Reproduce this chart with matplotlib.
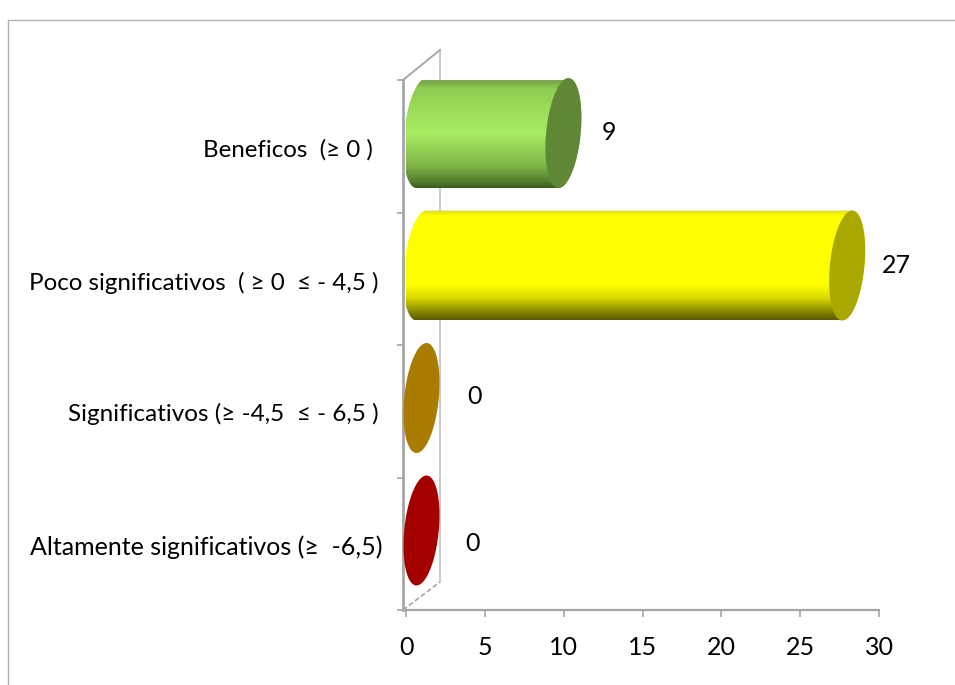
import numpy as np
from matplotlib import pyplot as plt
from matplotlib.colors import LinearSegmentedColormap
from matplotlib.lines import Line2D
from matplotlib.patches import Polygon

categorias = ["Altamente significativos (≥  -6,5)",
              "Significativos (≥ -4,5  ≤ - 6,5 )",
              "Poco significativos  ( ≥ 0  ≤ - 4,5 )",
              "Beneficos  (≥ 0 )"]
valores = [0, 0, 27, 9]
xticks = [0, 5, 10, 15, 20, 25, 30]

# colores: gradiente del cilindro (abajo -> arriba) y la tapa
gradientes = [[(0, "#a50000"), (1, "#a50000")],
              [(0, "#a97c00"), (1, "#a97c00")],
              [(0, "#5c5c00"), (0.06, "#7d7d00"), (0.2, "#d8d800"), (0.32, "#ffff00"),
               (0.95, "#ffff00"), (0.985, "#e6e600"), (1, "#d8d8a0")],
              [(0, "#3c5a20"), (0.05, "#4f7a2c"), (0.2, "#7fb548"), (0.5, "#a8ec62"),
               (0.9, "#90ce52"), (0.97, "#76a846"), (1, "#8aa870")]]
tapas = ["#a50000", "#a97c00", "#a8a800", "#5f8736"]

# desplazamientos de las etiquetas en px
lab_dx = [-24, -27, -28, -33]
lab_dy = [-3, -3, -4, -4]
lab_fs = [18, 17.5, 17.4, 17.4]
val_dx = [51, 53, 49, 46]
val_dy = [-13, 1, 0, 0]

W, H = 955, 685
PX_X = (879 - 406) / 30.0
PX_Y = (610 - 80) / 4.0
FONT = ["Lato", "DejaVu Sans"]
GRIS = "#a6a6a6"
GRIS2 = "#cccccc"

plt.rcParams["font.family"] = FONT

fig = plt.figure(figsize=(W / 100, H / 100), dpi=100)
ax = fig.add_axes([406 / W, (H - 610) / H, (879 - 406) / W, (610 - 80) / H])
ax.set_xlim(0, 30)
ax.set_ylim(0, 4)

# marco exterior
fig.add_artist(Line2D([8 / W, 8 / W, 1], [0, 1 - 20 / H, 1 - 20 / H], color="#b0b0b0", lw=1.0))

for s in ["top", "right"]:
    ax.spines[s].set_visible(False)
ax.spines["left"].set_position(("outward", 2.2))
ax.spines["left"].set_color(GRIS)
ax.spines["left"].set_linewidth(2.0)
ax.spines["bottom"].set_color(GRIS)
ax.spines["bottom"].set_linewidth(1.6)
ax.set_xticks(xticks)
ax.set_yticks(range(5))
ax.set_yticklabels([])
ax.tick_params(axis="x", length=5, width=1.2, color=GRIS, labelsize=18, pad=14, labelcolor="black")
ax.tick_params(axis="y", length=4.5, width=1.2, color=GRIS)

# pared del fondo
pared_x = 34 / PX_X
pared_t = 4 + 30 / PX_Y
pared_b = 28 / PX_Y
x_eje = -3 / PX_X
ax.plot([pared_x, pared_x], [pared_b, pared_t], color=GRIS2, lw=1.4, clip_on=False, zorder=1)
ax.plot([x_eje, pared_x], [4, pared_t], color=GRIS, lw=1.4, clip_on=False, zorder=1)
ax.plot([x_eje, pared_x], [0, pared_b], color=GRIS, lw=1.2, ls=(0, (3, 1.5)), clip_on=False, zorder=1)
ax.plot([x_eje, 0], [0, 0], color=GRIS, lw=1.6, clip_on=False, zorder=1)

# cilindros
base = 15.5 / PX_X
a = 17.3 / PX_X
sk = 5.0 / PX_X
b = 55.0 / PX_Y
desp = 0.1


def elipse(cx, cy, t):
    return np.column_stack([cx + a * np.cos(t) + sk * np.sin(t), cy + b * np.sin(t)])


for i, v in enumerate(valores):
    cy = i + 0.5 + desp
    x0 = base
    x1 = base + v
    if v > 0:
        izq = elipse(x0, cy, np.linspace(np.pi / 2, 3 * np.pi / 2, 60))
        der = elipse(x1, cy, np.linspace(3 * np.pi / 2, 5 * np.pi / 2, 60))
        cuerpo = Polygon(np.vstack([izq, der]), closed=True, fc="none", ec="none", transform=ax.transData)
        ax.add_patch(cuerpo)
        cmap = LinearSegmentedColormap.from_list("c%d" % i, gradientes[i])
        grad = np.linspace(0, 1, 256).reshape(-1, 1)
        im = ax.imshow(grad, cmap=cmap, origin="lower", aspect="auto", zorder=3,
                       extent=[x0 - 2, x1 + 2, cy - b, cy + b], clip_on=True)
        im.set_clip_path(cuerpo)
    tapa = Polygon(elipse(x1, cy, np.linspace(0, 2 * np.pi, 120)), closed=True,
                   fc=tapas[i], ec="none", zorder=4, clip_on=False)
    ax.add_patch(tapa)

    ax.annotate(categorias[i], xy=(0, i + 0.5), xytext=(lab_dx[i], lab_dy[i]), textcoords="offset pixels",
                ha="right", va="center", fontsize=lab_fs[i], color="black", annotation_clip=False)
    ax.annotate(str(v), xy=(x1, cy), xytext=(val_dx[i], val_dy[i]), textcoords="offset pixels",
                ha="center", va="center", fontsize=18, color="black", annotation_clip=False)

ax.set_xlim(0, 30)
ax.set_ylim(0, 4)

fig.savefig("out.png", dpi=100)
